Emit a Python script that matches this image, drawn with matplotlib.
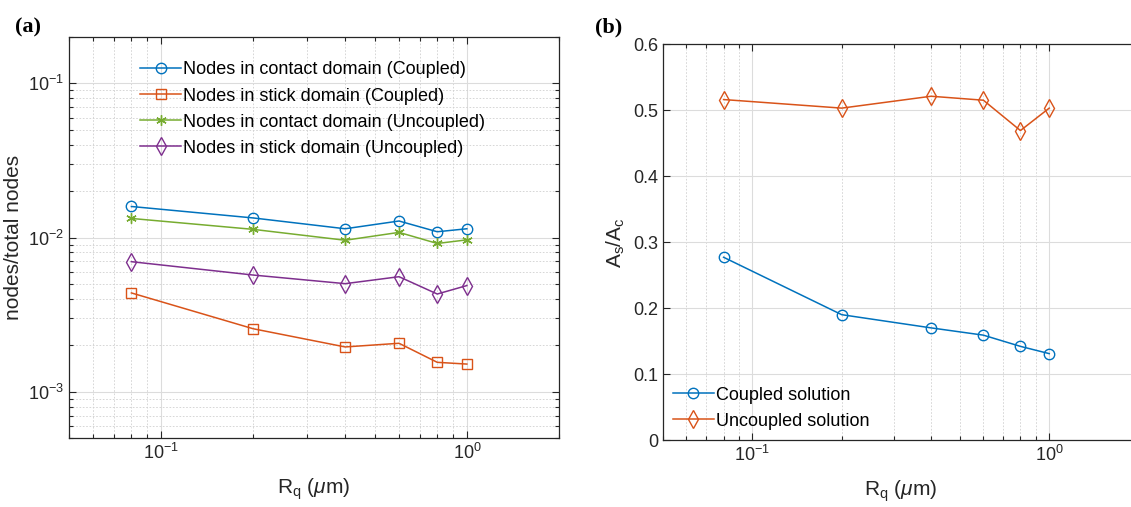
import numpy as np
import matplotlib
matplotlib.use('Agg')
import matplotlib.pyplot as plt
from matplotlib.ticker import LogLocator, NullFormatter, MultipleLocator

plt.rcParams['font.family'] = ['Liberation Sans', 'DejaVu Sans']
plt.rcParams['mathtext.fontset'] = 'custom'
plt.rcParams['mathtext.rm'] = 'Liberation Sans'
plt.rcParams['mathtext.it'] = 'Liberation Sans:italic'
plt.rcParams['mathtext.bf'] = 'Liberation Sans:bold'

# data
rq = [0.08, 0.2, 0.4, 0.6, 0.8, 1.0]

contact_coupled = [0.0159, 0.0134, 0.0114, 0.0128, 0.0109, 0.0114]
stick_coupled = [0.00437, 0.00256, 0.00195, 0.00206, 0.00155, 0.00151]
contact_uncoupled = [0.0133, 0.0113, 0.0096, 0.0108, 0.00915, 0.00966]
stick_uncoupled = [0.00697, 0.00571, 0.00502, 0.00557, 0.0043, 0.00488]

ratio_coupled = [0.277, 0.190, 0.170, 0.159, 0.142, 0.131]
ratio_uncoupled = [0.516, 0.503, 0.521, 0.515, 0.469, 0.503]

blue = '#0072BD'
orange = '#D95319'
green = '#77AC30'
purple = '#7E2F8E'
dark = '#262626'

fig = plt.figure(figsize=(11.31, 5.07), dpi=100)
ax1 = fig.add_axes([0.061, 0.136, 0.4332, 0.791])
ax2 = fig.add_axes([0.5862, 0.132, 0.4205, 0.781])


def style(ax):
    for s in ax.spines.values():
        s.set_color(dark)
        s.set_linewidth(0.9)
    ax.tick_params(which='both', direction='in', top=True, right=True,
                   colors=dark, labelsize=13, width=0.8)
    ax.tick_params(which='major', length=5)
    ax.tick_params(which='minor', length=3)
    ax.set_axisbelow(True)


asterisk = (6, 2, 0)

# panel (a)
ax1.plot(rq, contact_coupled, '-o', color=blue, mfc='none', ms=7.5, lw=1.1,
         label='Nodes in contact domain (Coupled)')
ax1.plot(rq, stick_coupled, '-s', color=orange, mfc='none', ms=6.5, lw=1.1,
         label='Nodes in stick domain (Coupled)')
ax1.plot(rq, contact_uncoupled, '-', marker=asterisk, color=green, ms=7.5, lw=1.1,
         mew=1.0, label='Nodes in contact domain (Uncoupled)')
ax1.plot(rq, stick_uncoupled, '-d', color=purple, mfc='none', ms=9, lw=1.1,
         label='Nodes in stick domain (Uncoupled)')
ax1.set_xscale('log')
ax1.set_yscale('log')
ax1.set_xlim(0.05, 2)
ax1.set_ylim(5e-4, 0.2)
ax1.xaxis.set_minor_locator(LogLocator(subs=np.arange(2, 10)))
ax1.yaxis.set_minor_locator(LogLocator(subs=np.arange(2, 10)))
ax1.xaxis.set_minor_formatter(NullFormatter())
ax1.yaxis.set_minor_formatter(NullFormatter())
ax1.grid(which='major', color='#dcdcdc', lw=0.8, ls='-')
ax1.grid(which='minor', color='#d0d0d0', lw=0.6, ls=(0, (2, 2)))
style(ax1)
ax1.set_xlabel(r'R$_\mathrm{q}$ ($\mu$m)', fontsize=15, color=dark, labelpad=10)
ax1.set_ylabel('nodes/total nodes', fontsize=15, color=dark, labelpad=4)
ax1.legend(loc='upper left', bbox_to_anchor=(0.13, 0.957), frameon=False,
           fontsize=13, handlelength=2.3, handletextpad=0.1, labelspacing=0.5,
           borderaxespad=0)
fig.text(0.013, 0.945, '(a)', fontsize=16, fontweight='bold',
         family='Liberation Serif', va='center')

# panel (b)
ax2.plot(rq, ratio_coupled, '-o', color=blue, mfc='none', ms=7.5, lw=1.1,
         label='Coupled solution')
ax2.plot(rq, ratio_uncoupled, '-d', color=orange, mfc='none', ms=9, lw=1.1,
         label='Uncoupled solution')
ax2.set_xscale('log')
ax2.set_xlim(0.05, 2)
ax2.set_ylim(0, 0.6)
ax2.yaxis.set_major_locator(MultipleLocator(0.1))
ax2.yaxis.set_major_formatter(plt.FuncFormatter(lambda v, p: f'{v:g}'))
ax2.xaxis.set_minor_locator(LogLocator(subs=np.arange(2, 10)))
ax2.xaxis.set_minor_formatter(NullFormatter())
ax2.grid(which='major', color='#dcdcdc', lw=0.8, ls='-')
ax2.grid(which='minor', axis='x', color='#d0d0d0', lw=0.6, ls=(0, (2, 2)))
style(ax2)
ax2.set_xlabel(r'R$_\mathrm{q}$ ($\mu$m)', fontsize=15, color=dark, labelpad=10)
ax2.set_ylabel(r'A$_\mathrm{s}$/A$_\mathrm{c}$', fontsize=15, color=dark, labelpad=4)
ax2.legend(loc='lower left', bbox_to_anchor=(0.005, 0.008), frameon=False,
           fontsize=13, handlelength=2.3, handletextpad=0.1, labelspacing=0.5,
           borderaxespad=0)
fig.text(0.526, 0.945, '(b)', fontsize=16, fontweight='bold',
         family='Liberation Serif', va='center')

fig.savefig('out.png', dpi=100)
